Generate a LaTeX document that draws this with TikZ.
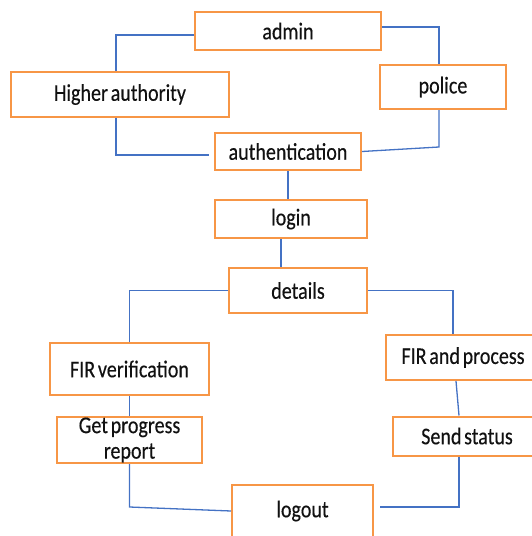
\documentclass[tikz,border=0pt]{standalone}
\usepackage{fontspec}
\setmainfont{Carlito}[FakeStretch=0.835, WordSpace=0.6, FakeBold=0.3]
\usetikzlibrary{calc}
\definecolor{boxorange}{HTML}{F79646}
\definecolor{lineblue}{HTML}{4472C4}
\definecolor{txt}{HTML}{111111}
\begin{document}
\begin{tikzpicture}[x=1pt,y=-1pt,
  box/.style={draw=boxorange, line width=2pt, fill=white, inner sep=0pt, align=center,
    text=txt, font=\fontsize{24}{25.5}\selectfont},
  conn/.style={draw=lineblue, line width=1.3pt}]
\useasboundingbox (0,0) rectangle (532,536);
\clip (0,0) rectangle (532,536);
% nodes
\node[box, minimum width=186pt, minimum height=38pt] (admin) at (288,31) {admin};
\node[box, minimum width=218pt, minimum height=45pt] (higher) at (120,94.5) {Higher authority};
\node[box, minimum width=126pt, minimum height=44pt] (police) at (443,87) {police};
\node[box, minimum width=146pt, minimum height=37pt] (auth) at (288,151.5) {authentication};
\node[box, minimum width=152pt, minimum height=38pt] (login) at (291,219) {login};
\node[box, minimum width=138pt, minimum height=45pt] (details) at (298,290.5) {details};
\node[box, minimum width=159pt, minimum height=52pt] (firv) at (129.5,369) {FIR verification};
\node[box, minimum width=154pt, minimum height=45pt] (firp) at (463,357.5) {FIR and process};
\node[box, minimum width=145pt, minimum height=46pt] (getp) at (129.5,440) {Get progress\\report};
\node[box, minimum width=148pt, minimum height=39pt] (send) at (467,436) {Send status};
\node[box, minimum width=141pt, minimum height=52pt] (logout) at (302.5,511) {logout};
% free ends
\coordinate (hA) at (209,155);
\coordinate (pB) at (439,147);
\coordinate (gL) at (129.5,507);
\coordinate (lE) at (380,507);
% connectors
\draw[conn] ($(admin.west)+(0,4)$) -| ($(higher.north)+(-4,0)$);
\draw[conn] ($(admin.east)+(0,-4)$) -| ($(police.north)+(-4,0)$);
\draw[conn] ($(higher.south)+(-4,0)$) |- (hA);
\draw[conn] ($(police.south)+(-4,0)$) -- (pB) -- (auth.east);
\draw[conn] (auth.south) -- (auth.south |- login.north);
\draw[conn] ($(login.south)+(-10,0)$) -- ($(details.north)+(-17,0)$);
\draw[conn] (details.west) -| (firv.north);
\draw[conn] (details.east) -| ($(firp.north)+(-10,0)$);
\draw[conn] (firv.south) -- (getp.north);
\draw[conn] ($(firp.south)+(-7,0)$) -- ($(send.north)+(-8,0)$);
\draw[conn] (getp.south) -- (gL) -- (logout.west);
\draw[conn] ($(send.south)+(-8,0)$) |- (lE);
\end{tikzpicture}
\end{document}
